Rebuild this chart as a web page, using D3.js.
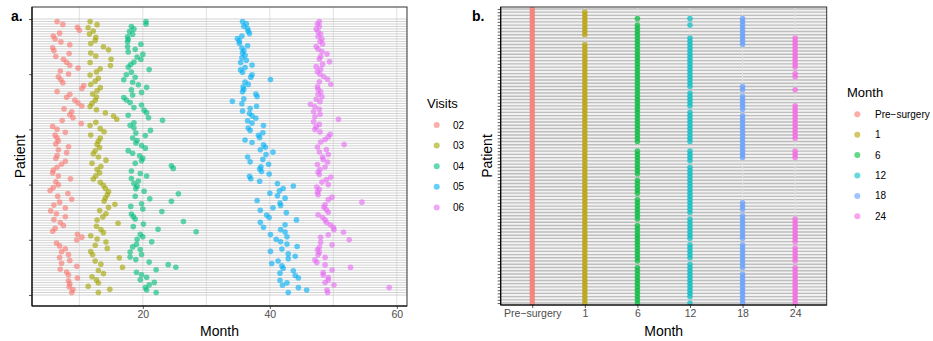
<!DOCTYPE html>
<html>
<head>
<meta charset="utf-8">
<script src="https://cdn.jsdelivr.net/npm/d3@7"></script>
<style>
  body { margin: 0; background: #fff; }
  svg { display: block; font-family: "Liberation Sans", Arial, sans-serif; }
</style>
</head>
<body>
<svg id="chart" width="933" height="341"></svg>
<script>
// ---- panel a data: months of each visit, patients read top to bottom ----
const visits = ['02', '03', '04', '05', '06'];
const visitColors = ['#F8766D', '#A3A500', '#00BF7D', '#00B0F6', '#E76BF3'];

const visit02 = [6.5, 7.4, 9.7, 10.0, 6.9, 5.9, 6.2, 7.1, 8.5, 5.8,
  6.0, 8.4, 6.3, 7.5, 8.0, 8.5, 9.8, 7.0, 8.3, 6.7,
  7.1, 7.4, 10.7, 10.4, 6.5, 8.5, 8.0, 9.3, 9.8, 10.4,
  7.6, 8.8, 8.5, 9.0, 7.3, 10.3, 5.8, 6.5, 7.8, 6.2,
  6.5, 6.7, 6.3, 8.3, 6.7, 8.0, 6.5, 6.3, 7.8, 7.2,
  6.5, 5.9, 5.8, 6.7, 8.6, 6.3, 6.7, 5.9, 5.4, 8.2,
  6.6, 8.8, 6.9, 6.0, 7.8, 5.5, 6.4, 7.8, 6.0, 7.0,
  7.5, 6.2, 5.8, 9.7, 10.4, 9.6, 6.4, 6.9, 7.8, 7.2,
  8.3, 6.9, 8.5, 7.2, 9.6, 7.0, 8.0, 8.3, 9.7, 8.3,
  8.5, 8.4, 9.0, 8.8];

const visit03 = [11.7, 12.8, 11.4, 12.2, 11.6, 12.6, 12.5, 11.8, 13.8, 14.6,
  11.8, 12.6, 15.0, 11.7, 14.9, 13.3, 12.7, 11.7, 13.0, 12.5,
  11.8, 13.3, 12.8, 12.1, 12.7, 12.5, 12.0, 11.7, 12.7, 14.1,
  15.4, 15.9, 12.6, 11.7, 13.3, 13.9, 11.8, 13.3, 13.0, 12.8,
  13.2, 12.5, 12.2, 13.0, 14.2, 12.0, 13.4, 12.8, 13.2, 12.6,
  12.2, 13.3, 13.8, 14.1, 14.6, 14.4, 14.1, 13.9, 15.6, 14.6,
  13.2, 14.2, 13.7, 12.8, 16.1, 12.7, 13.4, 13.8, 11.8, 12.8,
  14.2, 12.5, 14.4, 11.8, 12.1, 16.3, 12.5, 13.4, 16.8, 13.0,
  13.8, 12.0, 12.7, 13.0, 11.4, 14.8, 13.0];

const visit04 = [20.5, 20.5, 18.2, 18.6, 17.9, 18.4, 17.6, 17.7, 17.6, 19.7,
  17.6, 18.8, 17.7, 20.0, 19.1, 19.7, 18.6, 18.1, 17.7, 21.0,
  18.2, 17.4, 18.8, 17.0, 18.4, 19.3, 20.6, 18.2, 19.8, 18.4,
  17.0, 17.4, 18.0, 19.8, 18.6, 20.2, 20.6, 17.7, 20.9, 23.1,
  18.6, 18.0, 18.6, 21.2, 18.9, 20.4, 18.4, 19.1, 18.9, 19.8,
  20.4, 17.7, 18.4, 19.5, 20.0, 19.8, 18.8, 24.5, 24.8, 18.2,
  19.6, 20.6, 18.2, 19.3, 18.6, 19.1, 18.9, 20.2, 25.6, 18.8,
  21.1, 24.5, 19.8, 18.1, 20.0, 23.0, 18.2, 18.5, 18.8, 26.4,
  20.1, 18.5, 22.4, 28.4, 19.6, 20.0, 19.1, 21.4, 19.0, 18.4,
  19.6, 18.0, 19.8, 18.0, 18.9, 21.0, 24.0, 25.2, 22.1, 19.0,
  19.8, 20.6, 19.6, 21.8, 21.0, 20.4, 20.6, 22.1];

const visit05 = [35.7, 36.3, 35.9, 36.5, 36.6, 36.8, 35.6, 34.9, 35.2, 35.2,
  36.5, 35.6, 35.9, 35.7, 36.1, 35.6, 36.3, 35.4, 37.2, 36.1,
  35.4, 35.7, 37.2, 37.0, 40.1, 36.1, 36.6, 35.8, 35.9, 35.7,
  37.8, 38.0, 35.9, 34.1, 35.6, 37.9, 36.9, 35.7, 36.8, 37.2,
  37.8, 36.5, 37.2, 39.0, 36.6, 36.9, 38.9, 38.2, 38.4, 36.1,
  37.2, 39.0, 39.3, 38.5, 40.5, 39.4, 36.5, 38.9, 36.9, 39.8,
  38.6, 38.4, 38.7, 39.9, 36.8, 37.0, 38.4, 41.2, 43.7, 42.1,
  41.5, 40.0, 41.2, 42.4, 38.0, 41.6, 41.7, 40.5, 38.5, 42.6,
  39.5, 39.9, 44.2, 38.5, 42.4, 39.0, 41.7, 42.4, 40.1, 42.7,
  41.0, 41.7, 42.7, 44.3, 41.9, 40.1, 42.9, 44.0, 42.9, 41.3,
  40.3, 41.9, 42.1, 43.7, 41.6, 44.0, 44.5, 41.6, 42.7, 42.0,
  44.5, 45.8, 42.9];

const visit06 = [47.8, 47.5, 47.8, 47.3, 47.6, 48.0, 47.6, 48.2, 47.9, 48.3,
  47.3, 47.6, 48.2, 49.0, 48.0, 47.8, 49.4, 48.3, 47.3, 48.0,
  47.5, 47.9, 48.5, 49.1, 47.8, 49.6, 47.5, 47.6, 48.0, 47.6,
  48.2, 47.3, 47.9, 46.4, 47.1, 47.8, 46.9, 47.9, 47.1, 50.8,
  46.9, 47.8, 47.3, 47.1, 47.9, 49.5, 49.2, 48.7, 48.0, 51.7,
  47.5, 48.9, 47.8, 49.2, 48.3, 48.4, 49.1, 47.5, 48.7, 47.9,
  47.6, 47.8, 49.6, 48.9, 48.2, 49.2, 47.4, 47.8, 47.5, 47.6,
  49.8, 49.2, 54.5, 48.7, 48.5, 48.9, 49.2, 47.6, 48.3, 48.7,
  48.9, 49.5, 50.0, 50.1, 51.6, 49.2, 48.0, 52.5, 48.0, 49.8,
  47.8, 47.5, 47.8, 47.6, 48.7, 47.1, 47.4, 48.7, 52.7, 49.8,
  48.4, 48.4, 49.2, 49.2, 48.7, 50.1, 58.8, 49.0, 49.1];

const visitMonths = [visit02, visit03, visit04, visit05, visit06];
const nPatientsA = 110;
const xTicksA = [20, 40, 60];
const xGridA = [10, 20, 30, 40, 50, 60];
const yTicksA = [0, 22.2, 44.4, 66.6, 88.8, 111];

// ---- panel b data: patient rows (top = 0) that have each visit ----
const monthLabels = ['Pre\u2212surgery', '1', '6', '12', '18', '24'];
const monthColors = ['#F8766D', '#B79F00', '#00BA38', '#00BFC4', '#619CFF', '#F564E3'];
const nPatientsB = 92;

const preRows = [[0, 91]];
const m1Rows = [[1, 8], [11, 91]];
const m6Rows = [[3, 3], [5, 41], [44, 51], [53, 57], [59, 65], [67, 78], [80, 91]];
const m12Rows = [[3, 3], [5, 5], [9, 24], [26, 30], [32, 41], [44, 47], [49, 63], [65, 71], [73, 77], [79, 89], [91, 91]];
const m18Rows = [[3, 11], [24, 25], [27, 31], [33, 46], [60, 62], [64, 71], [73, 80], [82, 91]];
const m24Rows = [[9, 18], [20, 21], [25, 25], [30, 40], [44, 46], [65, 72], [74, 78], [80, 91]];
const monthRows = [preRows, m1Rows, m6Rows, m12Rows, m18Rows, m24Rows];

const svg = d3.select('#chart');

function styleAxis(g) {
  g.select('.domain').remove();
  g.selectAll('.tick line').attr('stroke', '#333').attr('stroke-width', 0.8);
  g.selectAll('.tick text').attr('fill', '#4d4d4d').attr('font-size', 10.5)
    .attr('font-family', '"Liberation Sans", Arial, sans-serif');
}

// ================= panel a =================
const pa = { left: 32, right: 407, top: 7, bottom: 306 };
const xA = d3.scaleLinear().domain([2.55, 61.6]).range([pa.left, pa.right]);
const yA = d3.scaleLinear().domain([0, 111]).range([295, 19]);

const gA = svg.append('g');
gA.append('clipPath').attr('id', 'clipA').append('rect')
  .attr('x', pa.left).attr('y', pa.top)
  .attr('width', pa.right - pa.left).attr('height', pa.bottom - pa.top);

gA.selectAll('.vgrid').data(xGridA).enter().append('line')
  .attr('x1', d => xA(d)).attr('x2', d => xA(d))
  .attr('y1', pa.top).attr('y2', pa.bottom)
  .attr('stroke', '#e0e0e0').attr('stroke-width', 1);

gA.selectAll('.hline').data(d3.range(0, 112)).enter().append('line')
  .attr('x1', pa.left).attr('x2', pa.right)
  .attr('y1', d => yA(d)).attr('y2', d => yA(d))
  .attr('stroke', '#cdcdcd').attr('stroke-width', 0.9);

const ptsA = gA.append('g').attr('clip-path', 'url(#clipA)');
visitMonths.forEach((months, v) => {
  // patients, top to bottom
  const row = d3.scalePoint().domain(d3.range(months.length)).range([nPatientsA, 1]);
  ptsA.selectAll('.v' + v).data(months).enter().append('circle')
    .attr('cx', d => xA(d))
    .attr('cy', (d, i) => yA(row(i)))
    .attr('r', 2.8)
    .attr('fill', visitColors[v])
    .attr('fill-opacity', 0.62);
});

gA.append('rect')
  .attr('x', pa.left).attr('y', pa.top)
  .attr('width', pa.right - pa.left).attr('height', pa.bottom - pa.top)
  .attr('fill', 'none').attr('stroke', '#333').attr('stroke-width', 1);

gA.append('g').attr('transform', `translate(0,${pa.bottom})`)
  .call(d3.axisBottom(xA).tickValues(xTicksA).tickSize(3).tickPadding(2))
  .call(styleAxis);
gA.append('g').attr('transform', `translate(${pa.left},0)`)
  .call(d3.axisLeft(yA).tickValues(yTicksA).tickFormat('').tickSize(3))
  .call(styleAxis);
gA.append('line').attr('x1', pa.left).attr('x2', pa.left).attr('y1', pa.top).attr('y2', pa.bottom)
  .attr('stroke', '#000').attr('stroke-width', 1.1);
gA.append('line').attr('x1', pa.left).attr('x2', pa.right).attr('y1', pa.bottom).attr('y2', pa.bottom)
  .attr('stroke', '#000').attr('stroke-width', 1.1);

gA.append('text').attr('x', (pa.left + pa.right) / 2).attr('y', 335.5)
  .attr('text-anchor', 'middle').attr('font-size', 14).text('Month');
gA.append('text').attr('transform', `translate(25,${(pa.top + pa.bottom) / 2}) rotate(-90)`)
  .attr('text-anchor', 'middle').attr('font-size', 14).text('Patient');
gA.append('text').attr('x', 11).attr('y', 20.5)
  .attr('font-size', 14).attr('font-weight', 'bold').text('a.');

const legA = gA.append('g');
legA.append('text').attr('x', 427).attr('y', 107.5).attr('font-size', 13).text('Visits');
visits.forEach((v, i) => {
  const cy = 125 + i * 20.6;
  legA.append('circle').attr('cx', 436.7).attr('cy', cy).attr('r', 3)
    .attr('fill', visitColors[i]).attr('fill-opacity', 0.6);
  legA.append('text').attr('x', 453).attr('y', cy).attr('dy', '0.35em')
    .attr('font-size', 10).text(v);
});

// ================= panel b =================
const pb = { left: 500.7, right: 826.7, top: 7, bottom: 305 };
const xB = d3.scalePoint().domain(monthLabels).range([pb.left, pb.right]).padding(0.6);
const yB = d3.scalePoint().domain(d3.range(nPatientsB)).range([pb.top, pb.bottom]).padding(0.6);

const gB = svg.append('g');
gB.append('clipPath').attr('id', 'clipB').append('rect')
  .attr('x', pb.left).attr('y', pb.top)
  .attr('width', pb.right - pb.left).attr('height', pb.bottom - pb.top);

gB.append('rect').attr('x', pb.left).attr('y', pb.top)
  .attr('width', pb.right - pb.left).attr('height', pb.bottom - pb.top)
  .attr('fill', '#f2f2f2');

gB.selectAll('.hgrid').data(d3.range(nPatientsB)).enter().append('line')
  .attr('x1', pb.left).attr('x2', pb.right)
  .attr('y1', d => yB(d)).attr('y2', d => yB(d))
  .attr('stroke', '#bdbdbd').attr('stroke-width', 1.4);
gB.selectAll('.vgrid').data(monthLabels).enter().append('line')
  .attr('x1', d => xB(d)).attr('x2', d => xB(d))
  .attr('y1', pb.top).attr('y2', pb.bottom)
  .attr('stroke', '#e2e2e2').attr('stroke-width', 1);

const ptsB = gB.append('g').attr('clip-path', 'url(#clipB)');
monthRows.forEach((ranges, m) => {
  const rows = [];
  ranges.forEach(([a, b]) => { for (let r = a; r <= b; r++) rows.push(r); });
  ptsB.selectAll('.m' + m).data(rows).enter().append('circle')
    .attr('cx', xB(monthLabels[m]))
    .attr('cy', d => yB(d))
    .attr('r', 2.8)
    .attr('fill', monthColors[m])
    .attr('fill-opacity', 0.7);
});

gB.append('rect')
  .attr('x', pb.left).attr('y', pb.top)
  .attr('width', pb.right - pb.left).attr('height', pb.bottom - pb.top)
  .attr('fill', 'none').attr('stroke', '#333').attr('stroke-width', 1);

gB.append('g').attr('transform', `translate(0,${pb.bottom})`)
  .call(d3.axisBottom(xB).tickSize(3).tickPadding(2))
  .call(styleAxis);
gB.append('g').attr('transform', `translate(${pb.left},0)`)
  .call(d3.axisLeft(yB).tickFormat('').tickSize(3))
  .call(styleAxis);
gB.append('line').attr('x1', pb.left).attr('x2', pb.left).attr('y1', pb.top).attr('y2', pb.bottom)
  .attr('stroke', '#000').attr('stroke-width', 1.1);
gB.append('line').attr('x1', pb.left).attr('x2', pb.right).attr('y1', pb.bottom).attr('y2', pb.bottom)
  .attr('stroke', '#000').attr('stroke-width', 1.1);

gB.append('text').attr('x', (pb.left + pb.right) / 2).attr('y', 335.5)
  .attr('text-anchor', 'middle').attr('font-size', 14).text('Month');
gB.append('text').attr('transform', `translate(492,${(pb.top + pb.bottom) / 2}) rotate(-90)`)
  .attr('text-anchor', 'middle').attr('font-size', 14).text('Patient');
gB.append('text').attr('x', 472).attr('y', 20.5)
  .attr('font-size', 14).attr('font-weight', 'bold').text('b.');

const legB = gB.append('g');
legB.append('text').attr('x', 847).attr('y', 96.5).attr('font-size', 13).text('Month');
monthLabels.forEach((m, i) => {
  const cy = 114.3 + i * 20.4;
  legB.append('circle').attr('cx', 857.3).attr('cy', cy).attr('r', 3)
    .attr('fill', monthColors[i]).attr('fill-opacity', 0.6);
  legB.append('text').attr('x', 875).attr('y', cy).attr('dy', '0.35em')
    .attr('font-size', 10).text(m);
});
</script>
</body>
</html>
